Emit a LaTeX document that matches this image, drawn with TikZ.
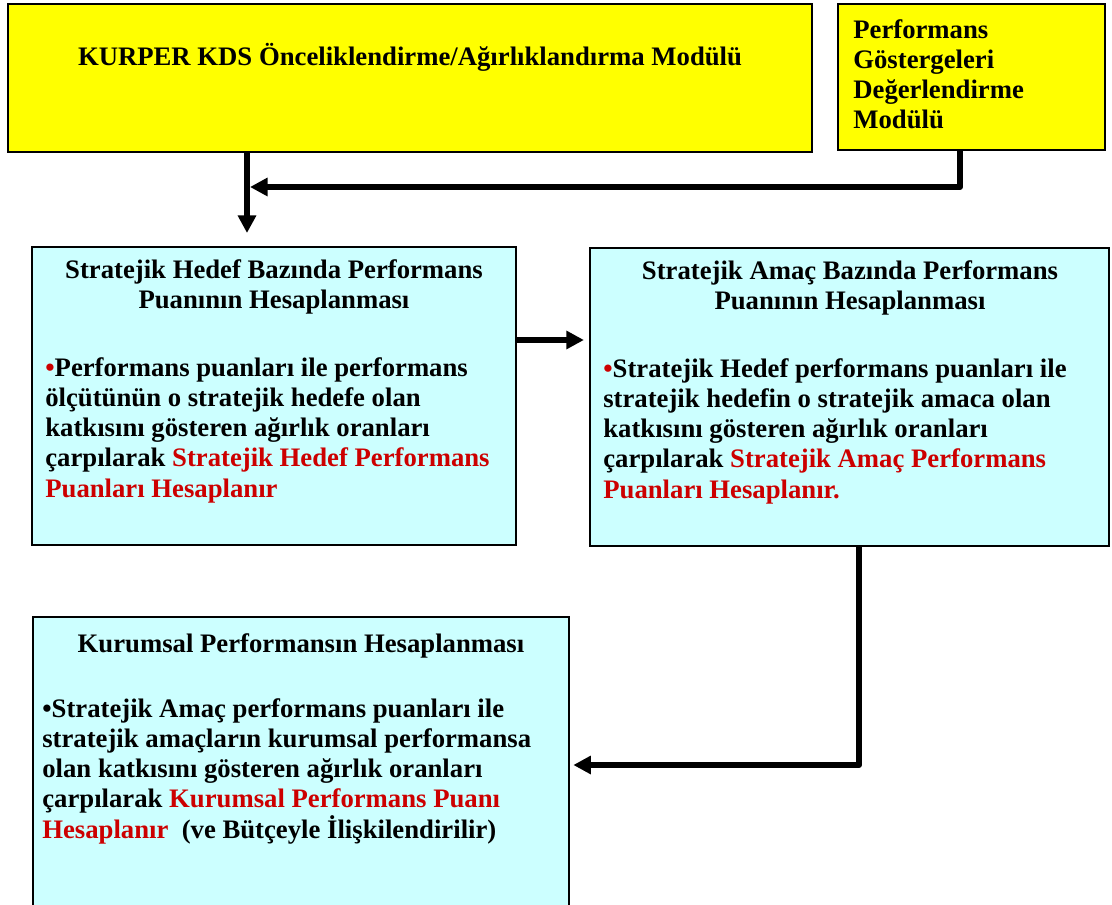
\documentclass[tikz,border=0pt]{standalone}
\usepackage{fontspec}
\setmainfont{Liberation Serif}
\usetikzlibrary{arrows.meta}
\definecolor{boxyellow}{HTML}{FFFF00}
\definecolor{boxcyan}{HTML}{CCFFFF}
\definecolor{hlred}{HTML}{CC0000}
\begin{document}
\begin{tikzpicture}[x=0.02cm,y=-0.02cm,
  box/.style={draw=black, line width=1pt, inner sep=0pt},
  txt/.style={font=\fontsize{15.2}{17.2}\selectfont\bfseries, inner sep=0pt, text=black},
  flow/.style={line width=3.4pt, line join=round, -{Triangle[length=10pt,width=10pt]}},
  ]
\useasboundingbox (0,0) rectangle (1112,905);
\clip (0,0) rectangle (1112,905);

% module boxes
\node[box, fill=boxyellow, minimum width=16.08cm, minimum height=2.96cm] (kurper) at (410,78) {};
\node[box, fill=boxyellow, minimum width=5.34cm, minimum height=2.92cm] (pgmod) at (971.5,77) {};
% calculation boxes
\node[box, fill=boxcyan, minimum width=9.68cm, minimum height=5.96cm] (hedef) at (274,396) {};
\node[box, fill=boxcyan, minimum width=10.38cm, minimum height=5.96cm] (amac) at (849.5,397) {};
\node[box, fill=boxcyan, minimum width=10.72cm, minimum height=6.46cm] (kurum) at (301,778.5) {};

% texts (multi-line nodes are placed by the baseline of their last line)
\node[txt, anchor=base] (kt) at (410,66) {KURPER KDS Önceliklendirme/Ağırlıklandırma Modülü};
\node[txt, anchor=base west, align=left] (pt) at (853,129) {Performans\\Göstergeleri\\Değerlendirme\\Modülü};

\node[txt, anchor=base, align=center] (ht) at (274,309) {Stratejik Hedef Bazında Performans\\Puanının Hesaplanması};
\node[txt, anchor=base west, align=left] (hb) at (45,497) {\textcolor{hlred}{•}Performans puanları ile performans\\ölçütünün o stratejik hedefe olan\\katkısını gösteren ağırlık oranları\\çarpılarak \textcolor{hlred}{Stratejik Hedef Performans}\\\textcolor{hlred}{Puanları Hesaplanır}};

\node[txt, anchor=base, align=center] (at) at (850,310) {Stratejik Amaç Bazında Performans\\Puanının Hesaplanması};
\node[txt, anchor=base west, align=left] (ab) at (603,498) {\textcolor{hlred}{•}Stratejik Hedef performans puanları ile\\stratejik hedefin o stratejik amaca olan\\katkısını gösteren ağırlık oranları\\çarpılarak \textcolor{hlred}{Stratejik Amaç Performans}\\\textcolor{hlred}{Puanları Hesaplanır.}};

\node[txt, anchor=base] (kut) at (301,652) {Kurumsal Performansın Hesaplanması};
\node[txt, anchor=base west, align=left] (kub) at (42,838) {•Stratejik Amaç performans puanları ile\\stratejik amaçların kurumsal performansa\\olan katkısını gösteren ağırlık oranları\\çarpılarak \textcolor{hlred}{Kurumsal Performans Puanı}\\\textcolor{hlred}{Hesaplanır}\ \ (ve Bütçeyle İlişkilendirilir)};

% connectors
\coordinate (t1) at (247,233);
\coordinate (j1) at (250,187);
\coordinate (c2) at (960,187);
\coordinate (m3) at (585,340);
\coordinate (c4) at (859,765);

\draw[flow] (kurper.south -| t1) -- (t1);
\draw[flow] (pgmod.south -| c2) -- (c2) -- (j1);
\draw[flow, shorten >=3pt] (hedef.east |- m3) -- (amac.west |- m3);
\draw[flow, shorten >=2pt] (amac.south -| c4) -- (c4) -- (kurum.east |- c4);
\end{tikzpicture}
\end{document}
